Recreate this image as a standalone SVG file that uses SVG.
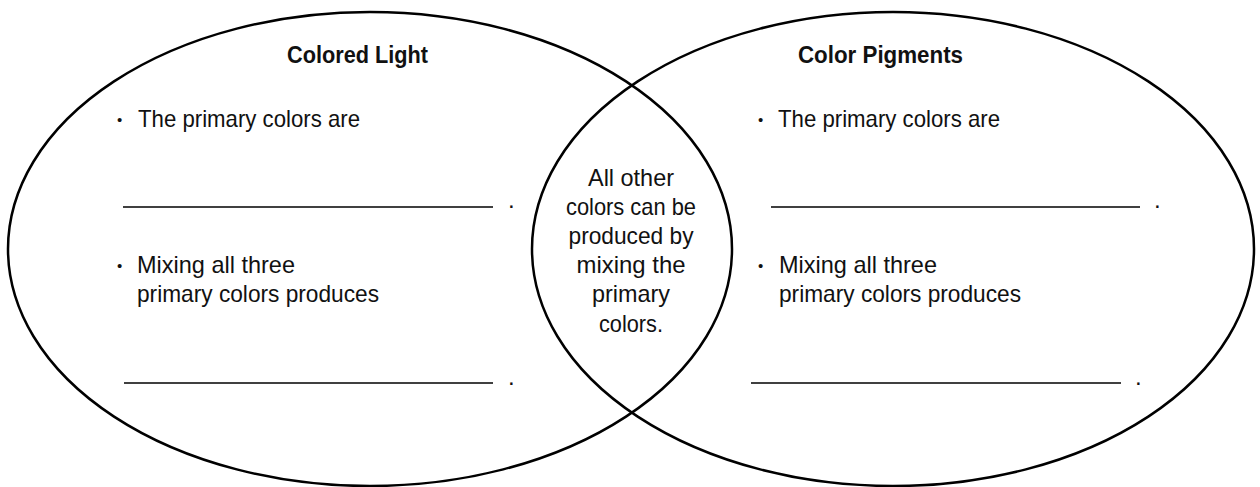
<svg xmlns="http://www.w3.org/2000/svg" width="1260" height="487" viewBox="0 0 1260 487">
<style>
.ell{fill:none;stroke:#000;stroke-width:2.5}
.blank{stroke:#000;stroke-width:1.5}
text{font-family:"Liberation Sans",Arial,sans-serif;font-size:24px;fill:#111}
.h{font-weight:bold;font-size:23px}
.c{text-anchor:middle}
.b{font-size:15px}
</style>
<rect width="1260" height="487" fill="#fff"/>
<g id="left-circle">
<ellipse class="ell" cx="370" cy="249" rx="362" ry="237"/>
<text class="h" x="287" y="63" textLength="141" lengthAdjust="spacingAndGlyphs">Colored Light</text>
<text class="b" x="117" y="125">•</text>
<text x="138" y="127" textLength="222" lengthAdjust="spacingAndGlyphs">The primary colors are</text>
<line class="blank" x1="123" y1="207" x2="493" y2="207"/>
<text x="508" y="208">.</text>
<text class="b" x="117" y="271">•</text>
<text x="137" y="273" textLength="158" lengthAdjust="spacingAndGlyphs">Mixing all three</text>
<text x="137" y="302" textLength="242" lengthAdjust="spacingAndGlyphs">primary colors produces</text>
<line class="blank" x1="124" y1="383" x2="493" y2="383"/>
<text x="508" y="385">.</text>
</g>
<g id="right-circle">
<ellipse class="ell" cx="893" cy="249" rx="361" ry="237"/>
<text class="h" x="798" y="63" textLength="165" lengthAdjust="spacingAndGlyphs">Color Pigments</text>
<text class="b" x="758" y="125">•</text>
<text x="778" y="127" textLength="222" lengthAdjust="spacingAndGlyphs">The primary colors are</text>
<line class="blank" x1="771" y1="207" x2="1140" y2="207"/>
<text x="1154" y="208">.</text>
<text class="b" x="758" y="271">•</text>
<text x="779" y="273" textLength="158" lengthAdjust="spacingAndGlyphs">Mixing all three</text>
<text x="779" y="302" textLength="242" lengthAdjust="spacingAndGlyphs">primary colors produces</text>
<line class="blank" x1="751" y1="383" x2="1121" y2="383"/>
<text x="1135" y="385">.</text>
</g>
<g id="overlap">
<text class="c" x="631" y="186" textLength="86" lengthAdjust="spacingAndGlyphs">All other</text>
<text class="c" x="631" y="215" textLength="130" lengthAdjust="spacingAndGlyphs">colors can be</text>
<text class="c" x="631" y="244" textLength="125" lengthAdjust="spacingAndGlyphs">produced by</text>
<text class="c" x="631" y="273" textLength="109" lengthAdjust="spacingAndGlyphs">mixing the</text>
<text class="c" x="631" y="302" textLength="78" lengthAdjust="spacingAndGlyphs">primary</text>
<text class="c" x="631" y="332" textLength="64" lengthAdjust="spacingAndGlyphs">colors.</text>
</g>
<g id="connectors"></g>
</svg>
